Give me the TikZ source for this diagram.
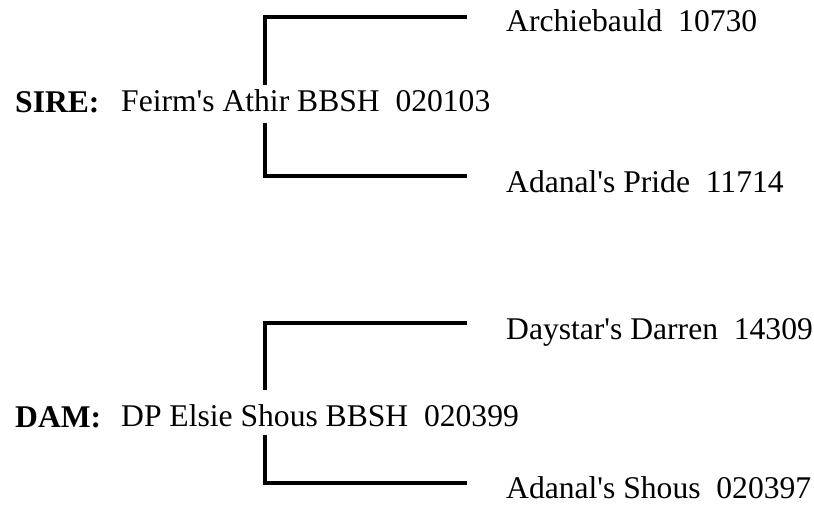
\documentclass[tikz,border=0pt]{standalone}
\usepackage{fontspec}
\setmainfont{Liberation Serif}
\usetikzlibrary{positioning}
\newcommand{\apos}{\textquotesingle}

\begin{document}
\begin{tikzpicture}[
      x=1pt, y=-1pt,
      font=\fontsize{31.6}{36}\selectfont,
      role/.style={anchor=base west, inner sep=0pt, font=\fontsize{31.6}{36}\selectfont\bfseries},
      kid/.style={anchor=base west, inner sep=0pt, text height=27pt, text depth=11pt},
      parent/.style={anchor=base west, inner sep=0pt},
      link/.style={line width=4pt, line join=miter},
    ]
    \useasboundingbox (0,0) rectangle (814,505);
    % ── SIRE ──
    \node[role] (sirelab) at (15,113) {SIRE:};
    \node[kid] (sire) at (121,112) {Feirm\apos s Athir BBSH\ \ 020103};
    \node[parent] (sire1) at (506,32)  {Archiebauld\ \ 10730};
    \node[parent] (sire2) at (506,193) {Adanal\apos s Pride\ \ 11714};
    \coordinate (sx) at (265,17);
    \coordinate (s1) at (467,17);
    \coordinate (s2) at (467,176);
    \draw[link] (s1) -- (sx) -- (sire.north -| sx);
    \draw[link] (sire.south -| sx) |- (s2);
    % ── DAM ──
    \node[role] (damlab) at (15,427) {DAM:};
    \node[kid, text height=36pt, text depth=9pt] (dam) at (121,426) {DP Elsie Shous BBSH\ \ 020399};
    \node[parent] (dam1) at (506,339) {Daystar\apos s Darren\ \ 14309};
    \node[parent] (dam2) at (506,498) {Adanal\apos s Shous\ \ 020397};
    \coordinate (dx) at (265,323);
    \coordinate (d1) at (467,323);
    \coordinate (d2) at (467,483);
    \draw[link] (d1) -- (dx) -- (dam.north -| dx);
    \draw[link] (dam.south -| dx) |- (d2);
  \end{tikzpicture}
\end{document}
